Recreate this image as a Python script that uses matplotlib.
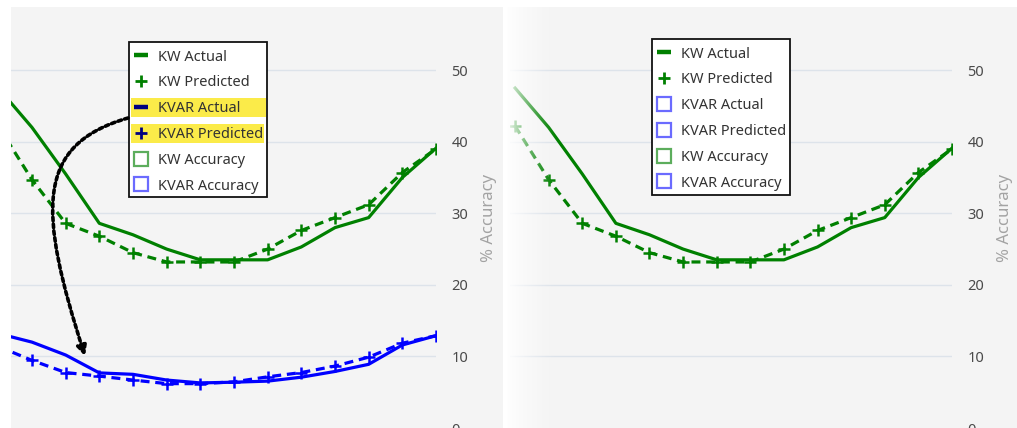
import numpy as np
import matplotlib
matplotlib.use("Agg")
import matplotlib.pyplot as plt
from matplotlib.lines import Line2D
from matplotlib.patches import Rectangle, FancyArrowPatch
from matplotlib.path import Path

plt.rcParams['font.family'] = ['Noto Sans', 'DejaVu Sans']

# ---------------- data ----------------
hours = list(range(14))
kw_actual = [47.5, 42.0, 35.5, 28.6, 27.0, 25.0, 23.5, 23.5, 23.5, 25.3, 28.0, 29.4, 35.0, 39.1]
kw_predicted = [42.2, 34.7, 28.6, 26.8, 24.5, 23.2, 23.2, 23.2, 25.0, 27.6, 29.4, 31.2, 35.7, 39.0]
kvar_actual = [13.2, 12.0, 10.2, 7.7, 7.5, 6.7, 6.3, 6.4, 6.55, 7.1, 7.9, 8.9, 11.6, 12.9]
kvar_predicted = [11.4, 9.45, 7.75, 7.25, 6.7, 6.2, 6.2, 6.45, 7.15, 7.75, 8.65, 9.9, 11.85, 12.9]
y_ticks = [0, 10, 20, 30, 40, 50]
y_label = "% Accuracy"
legend_labels = ["KW Actual", "KW Predicted", "KVAR Actual", "KVAR Predicted",
                 "KW Accuracy", "KVAR Accuracy"]

GREEN = "#008000"
BLUE = "#0000ff"
NAVY = "#000080"
ACC_GREEN = "#5cad5c"
ACC_BLUE = "#6b6bff"
BG = "#f4f4f4"
GRID = "#dde3ea"

W, H = 1017, 428
fig = plt.figure(figsize=(W / 100, H / 100), dpi=100)
fig.patch.set_facecolor("white")


def fx(px):
    return px / W


def fy(py):
    return 1 - py / H


# panel backgrounds
fig.add_artist(Rectangle((fx(11), 0), fx(503 - 11), fy(7), transform=fig.transFigure,
                         facecolor=BG, edgecolor="none", zorder=-10))
fig.add_artist(Rectangle((fx(507), 0), fx(W - 507), fy(7), transform=fig.transFigure,
                         facecolor=BG, edgecolor="none", zorder=-10))

YMIN = (433.5 - 428) / 7.25
YMAX = (433.5 - 7) / 7.25


def style_axes(ax, xmin):
    ax.set_facecolor("none")
    ax.set_xlim(xmin, 13)
    ax.set_ylim(YMIN, YMAX)
    for s in ax.spines.values():
        s.set_visible(False)
    ax.set_xticks([])
    ax.yaxis.tick_right()
    ax.yaxis.set_label_position("right")
    ax.set_yticks(y_ticks)
    ax.tick_params(axis="y", length=0, pad=11, labelsize=10.5, labelcolor="#4a4a4a")
    ax.set_ylabel(y_label, rotation=90, color="#a3a3a3", fontsize=12, labelpad=9)
    for v in y_ticks[1:]:
        ax.axhline(v, color=GRID, lw=1.0, zorder=0)


def draw_series(ax, x, actual, predicted, color):
    ax.plot(x, actual, color=color, lw=2.3, solid_joinstyle="round", zorder=3)
    ax.plot(x, predicted, color=color, lw=2.3, dashes=(2.8, 1.8), zorder=3)
    ax.plot(x, predicted, linestyle="none", marker="+", markersize=8.5,
            markeredgewidth=1.8, color=color, zorder=4)


# ---------------- left panel ----------------
axL = fig.add_axes([fx(11), 0, fx(436 - 11), fy(7)])
style_axes(axL, 0.377)
draw_series(axL, hours, kw_actual, kw_predicted, GREEN)
draw_series(axL, hours, kvar_actual, kvar_predicted, BLUE)

# ---------------- right panel ----------------
axR = fig.add_axes([fx(510), 0, fx(952 - 510), fy(7)])
style_axes(axR, -0.15)
draw_series(axR, hours, kw_actual, kw_predicted, GREEN)

# fade on the left edge of right panel
fade = fig.add_axes([fx(505), 0, fx(55), fy(7)], zorder=5)
grad = np.linspace(1, 0, 256) ** 1.5
img = np.ones((1, 256, 4))
img[0, :, 3] = grad
fade.imshow(img, aspect="auto", extent=(0, 1, 0, 1), interpolation="bilinear")
fade.set_axis_off()


# ---------------- legends ----------------
def handle_dash(c):
    return Line2D([], [], color=c, lw=3.2, solid_capstyle="butt")


def handle_plus(c):
    return Line2D([], [], color=c, lw=0, marker="+", markersize=8, markeredgewidth=2)


def handle_box(c):
    return Line2D([], [], color=c, lw=0, marker="s", markersize=10.5,
                  markerfacecolor="none", markeredgewidth=1.6)


handlesL = [handle_dash(GREEN), handle_plus(GREEN), handle_dash(NAVY), handle_plus(NAVY),
            handle_box(ACC_GREEN), handle_box(ACC_BLUE)]
handlesR = [handle_dash(GREEN), handle_plus(GREEN), handle_box(ACC_BLUE), handle_box(ACC_BLUE),
            handle_box(ACC_GREEN), handle_box(ACC_BLUE)]


def make_legend(handles, x0, y0, x1, y1, highlight):
    fig.add_artist(Rectangle((fx(x0), fy(y1)), fx(x1 - x0), fy(y0) - fy(y1),
                             transform=fig.transFigure, facecolor="white",
                             edgecolor="#111111", lw=1.3, zorder=6))
    for (ya, yb, xe) in highlight:
        fig.add_artist(Rectangle((fx(x0 + 2), fy(yb)), fx(xe - x0 - 2), fy(ya) - fy(yb),
                                 transform=fig.transFigure, facecolor="#fbeb49",
                                 edgecolor="none", zorder=7))
    leg = fig.legend(handles, legend_labels, loc="upper left",
                     bbox_to_anchor=(fx(x0 - 2), fy(y0 + 1)), frameon=False,
                     fontsize=10.5, handlelength=1.0, handletextpad=0.7,
                     labelspacing=0.74, borderaxespad=0, borderpad=0.45)
    leg.set_zorder(8)
    for t in leg.get_texts():
        t.set_color("#333333")
    return leg


make_legend(handlesL, 129, 42, 267, 197, [(98, 117, 266), (124, 143, 264)])
make_legend(handlesR, 652, 39, 790, 195, [])

# ---------------- dotted arrow ----------------
pts = [(128, 118), (35, 145), (38, 210), (85, 356)]
verts = [(fx(px), fy(py)) for px, py in pts]
path = Path(verts, [Path.MOVETO, Path.CURVE4, Path.CURVE4, Path.CURVE4])
arrow = FancyArrowPatch(path=path, transform=fig.transFigure, arrowstyle="-|>",
                        mutation_scale=14, lw=2.6, linestyle=(0, (1, 0.9)),
                        color="black", zorder=9)
fig.add_artist(arrow)

fig.savefig("out.png", dpi=100)
